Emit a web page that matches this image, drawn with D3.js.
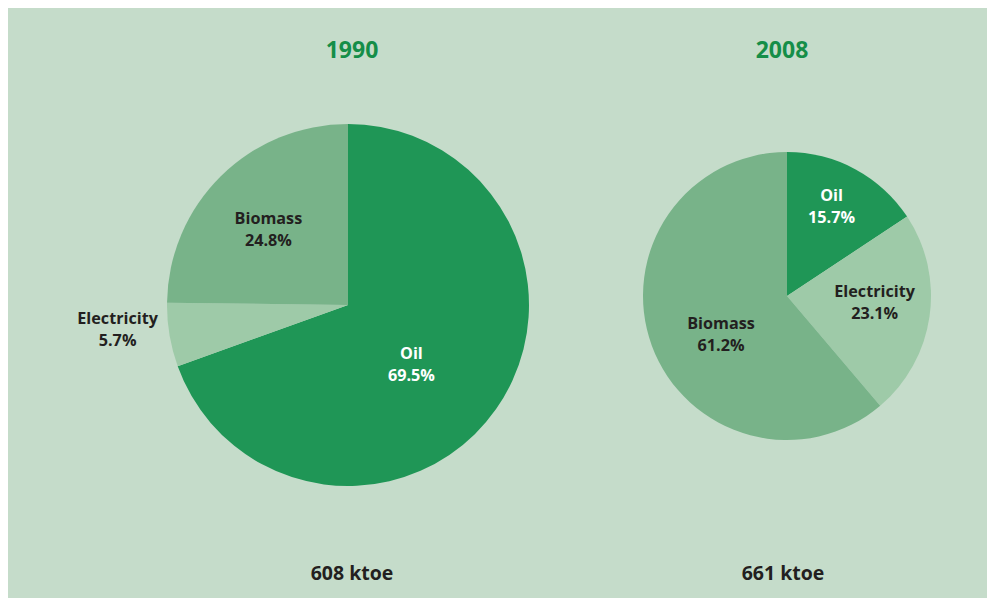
<!DOCTYPE html>
<html><head><meta charset="utf-8">
<script src="https://cdn.jsdelivr.net/npm/d3@7"></script>
<style>
html,body{margin:0;padding:0;background:#fff;}
svg{display:block;}
text{font-family:"Open Sans",sans-serif;font-weight:700;}
</style></head>
<body>
<svg id="chart" width="987" height="598"></svg>
<script>
// ---- data ----
const years = ["1990", "2008"];
const totals = ["608 ktoe", "661 ktoe"];
const categories = ["Oil", "Electricity", "Biomass"];
const values1990 = [69.5, 5.7, 24.8];
const values2008 = [15.7, 23.1, 61.2];

// ---- styles / layout ----
const colors = {Oil: "#1f9656", Electricity: "#9ecaa8", Biomass: "#78b389"};
const labelColors = {Oil: "#ffffff", Electricity: "#231f20", Biomass: "#231f20"};
const pies = [
  {cx: 348, cy: 305, r: 181, values: values1990, titleX: 352, labelR: {Oil: 0.48, Electricity: 1.28, Biomass: 0.61}, labelRot: {Oil: 8, Electricity: 3.5, Biomass: -1.5}},
  {cx: 787, cy: 296, r: 144, values: values2008, titleX: 782, labelR: {Oil: 0.70, Electricity: 0.61, Biomass: 0.53}, labelRot: {Oil: -2, Electricity: -4, Biomass: -10}}
];

const svg = d3.select("#chart");
svg.append("rect").attr("x", 8).attr("y", 8).attr("width", 979).attr("height", 590).attr("fill", "#c5dcca");

const pieGen = d3.pie().sort(null).value(d => d.v);

pies.forEach((p, i) => {
  const data = categories.map((c, k) => ({c, v: p.values[k]}));
  const arcs = pieGen(data);
  const arc = d3.arc().innerRadius(0).outerRadius(p.r);
  const g = svg.append("g").attr("transform", `translate(${p.cx},${p.cy})`);
  g.selectAll("path").data(arcs).join("path")
    .attr("d", arc)
    .attr("fill", d => colors[d.data.c]);

  arcs.forEach(a => {
    const mid = (a.startAngle + a.endAngle) / 2 + (p.labelRot[a.data.c] * Math.PI / 180);
    const rr = p.r * p.labelR[a.data.c];
    const x = Math.sin(mid) * rr, y = -Math.cos(mid) * rr;
    const t = g.append("text").attr("text-anchor", "middle")
      .attr("fill", labelColors[a.data.c]).attr("font-size", 16.2);
    t.append("tspan").attr("x", x).attr("y", y - 5).text(a.data.c);
    t.append("tspan").attr("x", x).attr("y", y + 17).text(a.data.v.toFixed(1) + "%");
  });

  svg.append("text").attr("x", p.titleX).attr("y", 58).attr("text-anchor", "middle")
    .attr("fill", "#158e48").attr("font-size", 23).text(years[i]);
  svg.append("text").attr("x", i === 0 ? 352 : 783).attr("y", 580).attr("text-anchor", "middle")
    .attr("fill", "#231f20").attr("font-size", 19.5).text(totals[i]);
});
</script>
</body></html>
